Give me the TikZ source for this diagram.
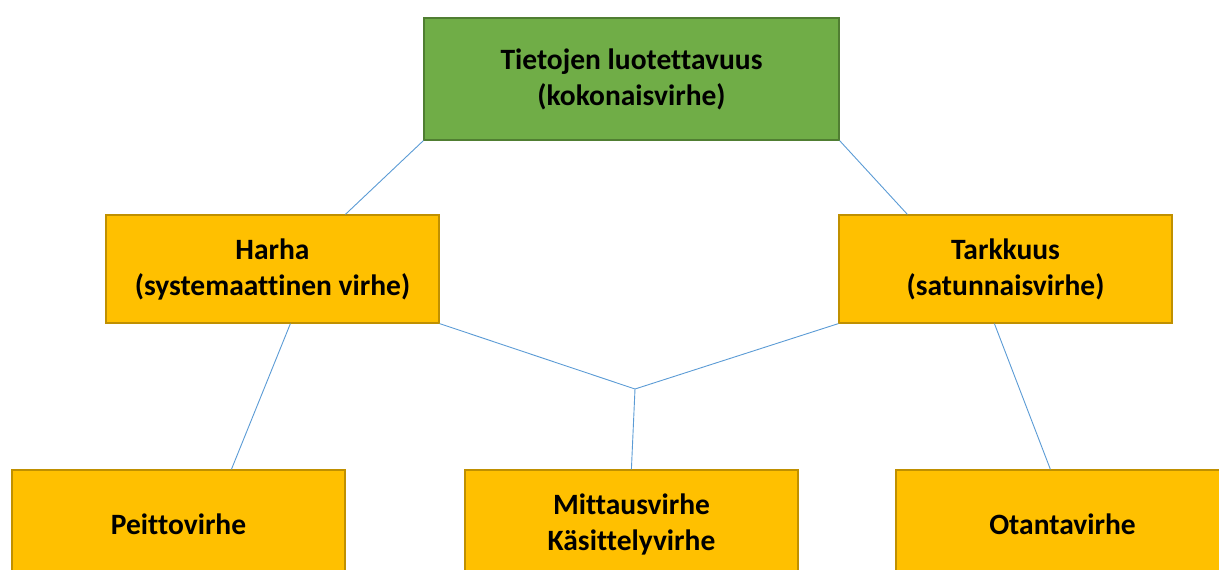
\documentclass[tikz,border=0pt]{standalone}
\usepackage{fontspec}
\setmainfont{Carlito}[Ligatures={NoCommon}]
\definecolor{topgreen}{HTML}{70AD47}
\definecolor{topgreenb}{HTML}{507E32}
\definecolor{boxyellow}{HTML}{FFC000}
\definecolor{boxyellowb}{HTML}{C09000}
\definecolor{linkblue}{HTML}{5B9BD5}
\tikzset{
  basebox/.style={draw, line width=1.2pt, minimum width=333pt, minimum height=108pt,
    inner sep=0pt, align=center, font=\fontsize{29.5}{36}\selectfont\bfseries, text=black},
  topbox/.style={basebox, fill=topgreen, draw=topgreenb, minimum width=415pt, minimum height=122pt},
  yelbox/.style={basebox, fill=boxyellow, draw=boxyellowb},
  link/.style={draw=linkblue, line width=0.9pt}
}
\begin{document}
\begin{tikzpicture}[x=1pt,y=-1pt]
\useasboundingbox (0,0) rectangle (1219,570);
\clip (0,0) rectangle (1219,570);
\node[topbox] (top) at (631.5,79) {Tietojen luotettavuus\\(kokonaisvirhe)};
\node[yelbox] (harha) at (272.5,269) {Harha\\(systemaattinen virhe)};
\node[yelbox] (tark) at (1005.5,269) {Tarkkuus\\(satunnaisvirhe)};
\node[yelbox] (peitto) at (178.5,524) {Peittovirhe};
\node[yelbox] (mit) at (631.5,524) {Mittausvirhe\\Käsittelyvirhe};
\node[yelbox] (otanta) at (1062.5,524) {Otantavirhe};
\coordinate (junc) at (635,389);
\draw[link] (top.south west) -- ([xshift=240pt]harha.north west);
\draw[link] (top.south east) -- ([xshift=69pt]tark.north west);
\draw[link] (harha.south east) -- (junc);
\draw[link] (tark.south west) -- (junc);
\draw[link] (junc) -- ([xshift=167pt]mit.north west);
\draw[link] ([xshift=185pt]harha.south west) -- ([xshift=220pt]peitto.north west);
\draw[link] ([xshift=156pt]tark.south west) -- ([xshift=155pt]otanta.north west);
\end{tikzpicture}
\end{document}
